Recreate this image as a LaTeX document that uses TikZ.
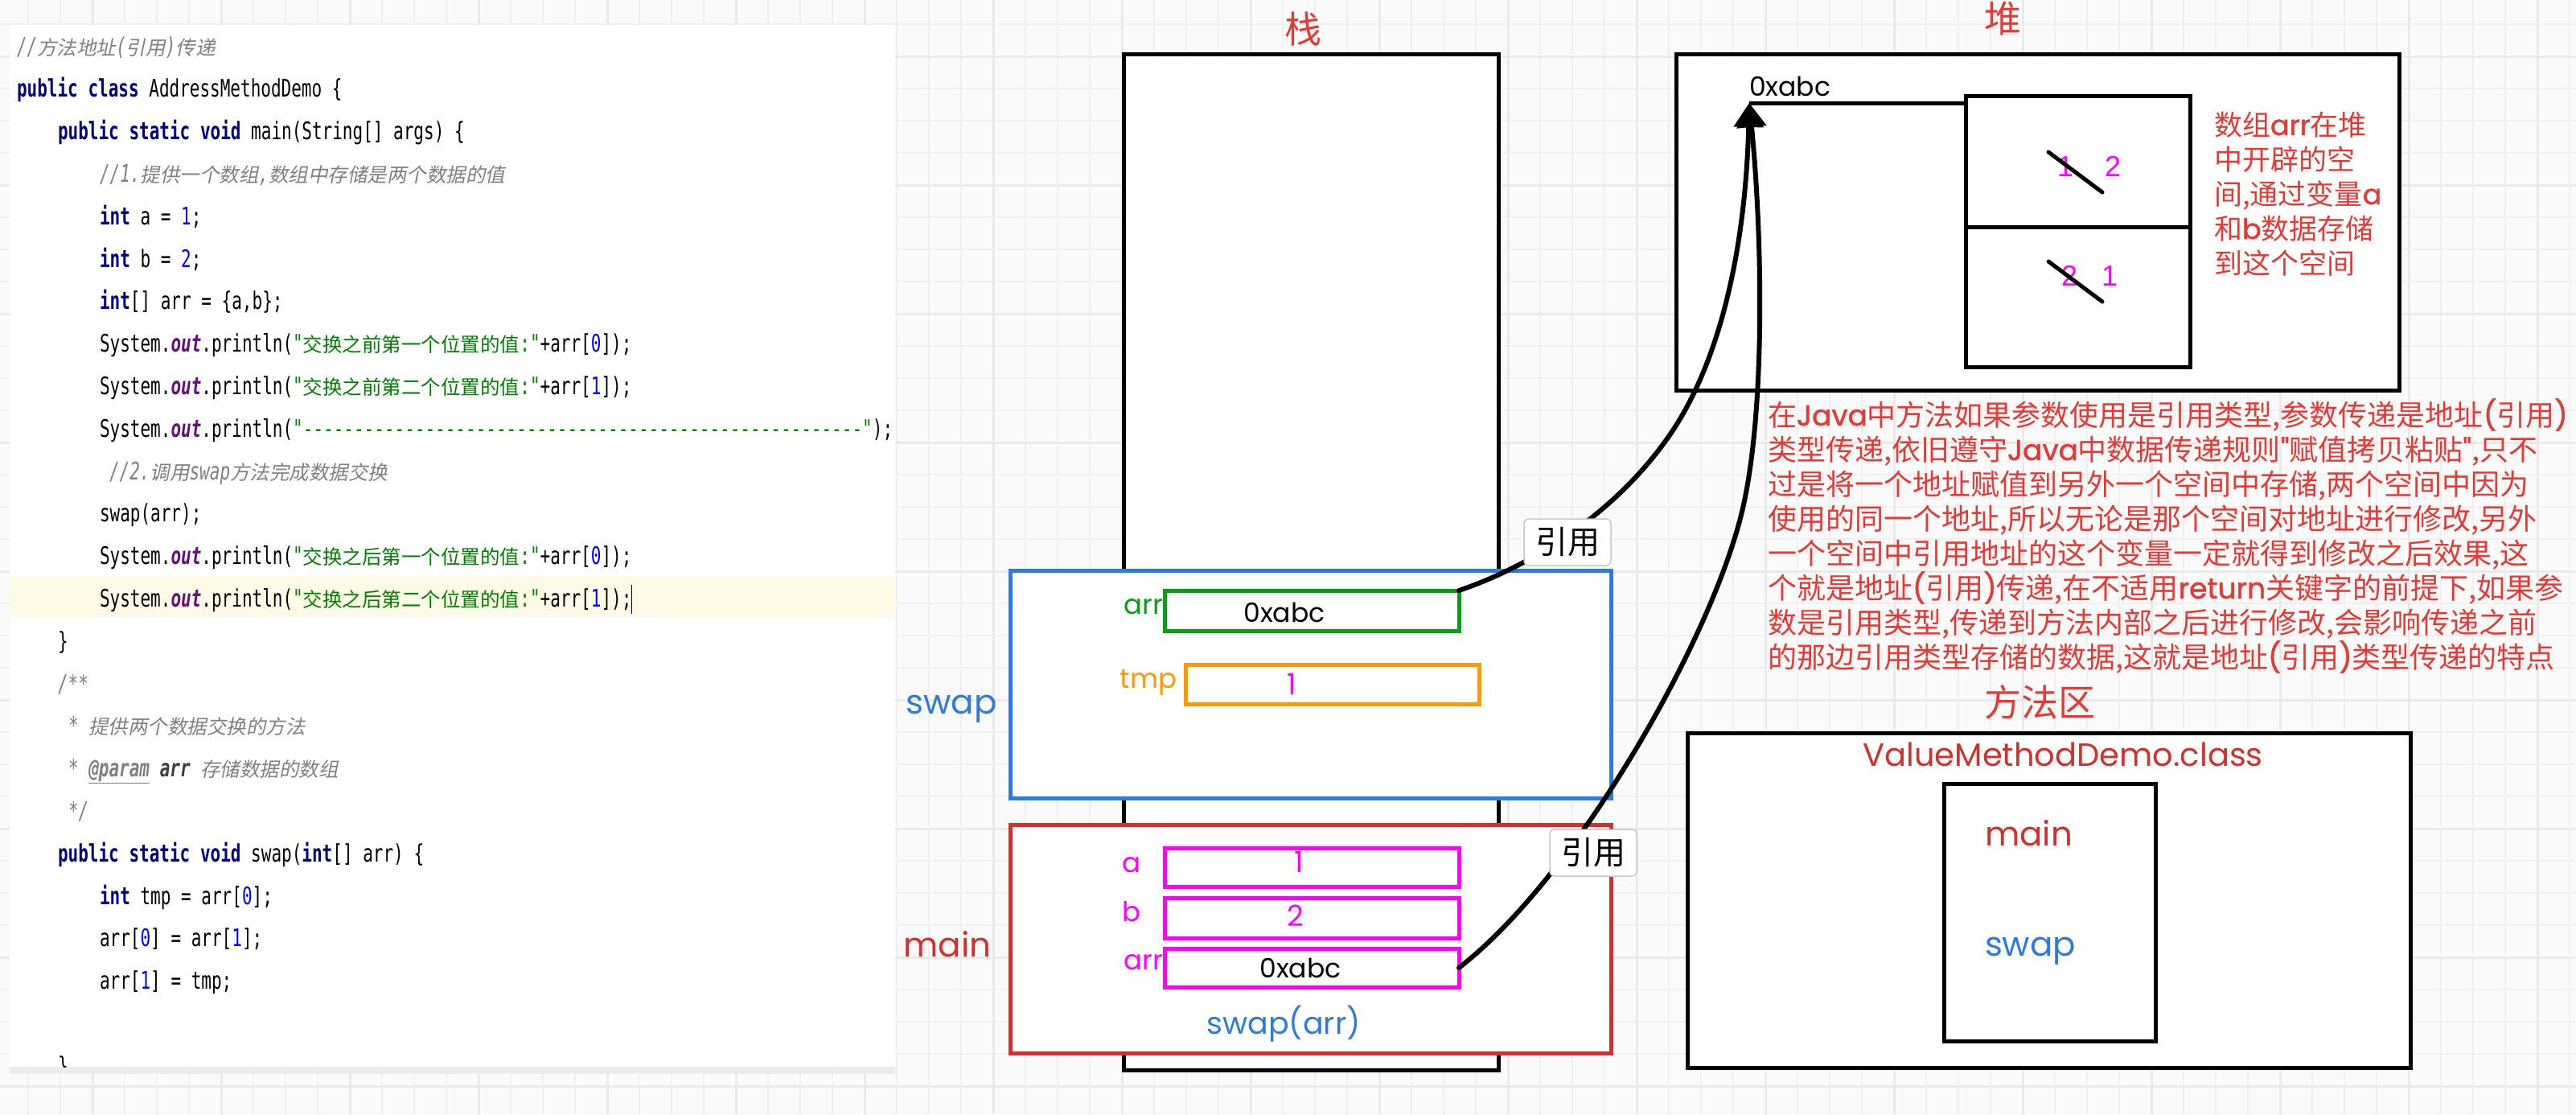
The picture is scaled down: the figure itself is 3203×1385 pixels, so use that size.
\documentclass[tikz,border=0pt]{standalone}
\usepackage{fontspec}
\usetikzlibrary{arrows.meta}
\setmainfont{Poppins}
\newfontfamily\uif{Poppins}[FakeBold=1.3]
\newfontfamily\cjkf{Noto Sans CJK SC}
\newfontfamily\cjkif{Noto Sans CJK SC}[FakeSlant=0.2]
\newfontfamily\codef{DejaVu Sans Mono}[FakeStretch=0.7]
\newfontfamily\libf{Liberation Sans}
\definecolor{bgc}{RGB}{250,250,250}
\definecolor{gridc}{RGB}{240,240,240}
\definecolor{gridm}{RGB}{234,234,234}
\definecolor{kwc}{RGB}{0,0,128}
\definecolor{outc}{RGB}{102,14,122}
\definecolor{strc}{RGB}{0,128,0}
\definecolor{numc}{RGB}{0,0,255}
\definecolor{cmc}{RGB}{128,128,128}
\definecolor{cmdark}{RGB}{61,61,61}
\definecolor{hlc}{RGB}{253,251,230}
\definecolor{stripc}{RGB}{236,236,236}
\definecolor{bluec}{RGB}{45,123,224}
\definecolor{redc}{RGB}{211,47,47}
\definecolor{greenc}{RGB}{0,160,20}
\definecolor{orangec}{RGB}{255,153,0}
\definecolor{magc}{RGB}{255,0,255}
\definecolor{annc}{RGB}{229,57,53}
\definecolor{refc}{RGB}{200,200,200}
\newcommand\zh[1]{{\cjkf\fontsize{24.5}{30}\selectfont #1}}
\newcommand\zhi[1]{{\cjkif\fontsize{24.5}{30}\selectfont #1}}
\newcommand\kw[1]{{\color{kwc}\bfseries #1}}
\newcommand\outw{{\color{outc}\bfseries\itshape out}}
\newcommand\nm[1]{{\color{numc}#1}}
\newcommand\sg[1]{{\color{strc}#1}}
\newcommand\cm[1]{{\color{cmc}\itshape #1}}
\newcommand\ui[1]{{\uif #1}}
\begin{document}
\begin{tikzpicture}[x=1pt,y=-1pt,
  every node/.style={inner sep=0pt,outer sep=0pt},
  blkbox/.style={draw=black,line width=5pt,fill=white,anchor=north west},
  colbox/.style={draw=#1,line width=5pt,fill=white,anchor=north west},
  codeln/.style={anchor=base west,font=\codef\fontsize{30}{36}\selectfont},
  uit/.style={anchor=base,font=\rmfamily\fontsize{#1}{#1}\selectfont},
  zht/.style={anchor=base,text=annc,font=\cjkf\fontsize{#1}{#1}\selectfont},
  annot/.style={anchor=base west,text=annc,font=\cjkf\fontsize{36}{43}\selectfont},
  hannot/.style={anchor=base west,text=annc,font=\cjkf\fontsize{35}{43}\selectfont},
  digit/.style={anchor=base,text=magc,font=\libf\fontsize{36}{36}\selectfont},
  reflbl/.style={draw=refc,line width=1.5pt,fill=white,rounded corners=6pt,
    minimum width=108pt,minimum height=58pt,font=\cjkf\fontsize{40}{40}\selectfont},
  curve/.style={draw=black,line width=6pt,line cap=round,-{Triangle[length=30pt,width=36pt]}},
  slash/.style={draw=black,line width=5pt,line cap=round}]
\useasboundingbox (0,0) rectangle (3203,1385);
% background and grid
\fill[bgc] (0,0) rectangle (3203,1385);
\foreach \gx in {35,75,...,3195} \draw[gridc,line width=2pt] (\gx,0) -- (\gx,1385);
\foreach \gy in {30,70,...,1385} \draw[gridc,line width=2pt] (0,\gy) -- (3203,\gy);
\foreach \gx in {115,275,...,3195} \draw[gridm,line width=3pt] (\gx,0) -- (\gx,1385);
\foreach \gy in {70,230,...,1385} \draw[gridm,line width=3pt] (0,\gy) -- (3203,\gy);
% code panel
\fill[white] (12,31) rectangle (1113,1326);
\fill[stripc] (12,1326) rectangle (1113,1335);
\fill[hlc] (12,716) rectangle (1113,767);
\begin{scope}
\clip (12,31) rectangle (1113,1326);
\node[codeln] (c1) at (21,68) {\cm{//\zhi{方法地址}(\zhi{引用})\zhi{传递}}};
\node[codeln] (c2) at (21,120.8) {\kw{public} \kw{class} AddressMethodDemo \{};
\node[codeln] (c3) at (72,173.6) {\kw{public} \kw{static} \kw{void} main(String[] args) \{};
\node[codeln] (c4) at (124,226.4) {\cm{//1.\zhi{提供一个数组},\zhi{数组中存储是两个数据的值}}};
\node[codeln] (c5) at (124,279.2) {\kw{int} a = \nm{1};};
\node[codeln] (c6) at (124,332) {\kw{int} b = \nm{2};};
\node[codeln] (c7) at (124,384.8) {\kw{int}[] arr = \{a,b\};};
\node[codeln] (c8) at (124,437.6) {System.\outw.println(\sg{"\zh{交换之前第一个位置的值}:"}+arr[\nm{0}]);};
\node[codeln] (c9) at (124,490.4) {System.\outw.println(\sg{"\zh{交换之前第二个位置的值}:"}+arr[\nm{1}]);};
\node[codeln] (c10) at (124,543.2) {System.\outw.println(\sg{"-------------------------------------------------------"});};
\node[codeln] (c11) at (136,596) {\cm{//2.\zhi{调用}swap\zhi{方法完成数据交换}}};
\node[codeln] (c12) at (124,648.8) {swap(arr);};
\node[codeln] (c13) at (124,701.6) {System.\outw.println(\sg{"\zh{交换之后第一个位置的值}:"}+arr[\nm{0}]);};
\node[codeln] (c14) at (124,754.4) {System.\outw.println(\sg{"\zh{交换之后第二个位置的值}:"}+arr[\nm{1}]);};
\draw[line width=1.5pt] (c14.east |- 0,727) -- (c14.east |- 0,763);
\node[codeln] (c15) at (72,807.2) {\}};
\node[codeln] (c16) at (72,860) {\cm{/**}};
\node[codeln] (c17) at (85,912.8) {\cm{* \zhi{提供两个数据交换的方法}}};
\node[codeln] (c18) at (85,965.6) {\cm{* \underline{\bfseries @param} {\color{cmdark}\bfseries arr} \zhi{存储数据的数组}}};
\node[codeln] (c19) at (85,1018.4) {\cm{*/}};
\node[codeln] (c20) at (72,1071.2) {\kw{public} \kw{static} \kw{void} swap(\kw{int}[] arr) \{};
\node[codeln] (c21) at (124,1124) {\kw{int} tmp = arr[\nm{0}];};
\node[codeln] (c22) at (124,1176.8) {arr[\nm{0}] = arr[\nm{1}];};
\node[codeln] (c23) at (124,1229.6) {arr[\nm{1}] = tmp;};
\node[codeln] (c25) at (72,1335.2) {\}};
\end{scope}
% stack
\node[zht=46] (stackT) at (1620,53) {栈};
\node[blkbox,minimum width=466pt,minimum height=1263pt] (stack) at (1397,67) {};
\node[colbox=bluec,minimum width=747pt,minimum height=283pt] (swapF) at (1256,709) {};
\node[colbox=redc,minimum width=747pt,minimum height=284pt] (mainF) at (1256,1025) {};
\node[uit=42,text=bluec] (swapL) at (1183,887) {swap};
\node[uit=42,text=redc] (mainL) at (1178,1189) {main};
\node[colbox=greenc,minimum width=366pt,minimum height=50pt] (sarr) at (1448,734) {};
\node[colbox=orangec,minimum width=365pt,minimum height=49pt] (stmp) at (1474,826) {};
\node[colbox=magc,minimum width=366pt,minimum height=48pt] (ma) at (1448,1054) {};
\node[colbox=magc,minimum width=366pt,minimum height=50pt] (mb) at (1448,1116) {};
\node[colbox=magc,minimum width=366pt,minimum height=48pt] (marr) at (1448,1179) {};
\node[uit=34,text=greenc,anchor=base east] (sarrL) at (1446,763) {arr};
\node[uit=33] (sval) at (1597,773) {0xabc};
\node[uit=34,text=orangec,anchor=base east] (stmpL) at (1463,855) {tmp};
\node[uit=36,text=magc] (tval) at (1606,863) {1};
\node[uit=34,text=magc,anchor=base west] (maL) at (1395,1084) {a};
\node[uit=36,text=magc] (aval) at (1615,1084) {1};
\node[uit=34,text=magc,anchor=base west] (mbL) at (1395,1145) {b};
\node[uit=36,text=magc] (bval) at (1611,1151) {2};
\node[uit=34,text=magc,anchor=base east] (marrL) at (1446,1205) {arr};
\node[uit=33] (mval) at (1617,1215) {0xabc};
\node[uit=38,text=bluec] (callL) at (1596,1285) {swap(arr)};
% heap
\node[zht=46] (heapT) at (2490,40) {堆};
\node[blkbox,minimum width=899pt,minimum height=418pt] (heap) at (2084,67) {};
\node[blkbox,minimum width=279pt,minimum height=337pt] (harr) at (2444,119) {};
\draw[line width=5pt] (harr.west |- 0,282) -- (harr.east |- 0,282);
\node[uit=33,anchor=base west] (hval) at (2175,119) {0xabc};
\node[digit] (h11) at (2568,219) {1};
\node[digit] (h12) at (2627,219) {2};
\node[digit] (h21) at (2573,355) {2};
\node[digit] (h22) at (2623,355) {1};
\draw[slash] (2547,189) -- (2614,239);
\draw[slash] (2547,325) -- (2614,375);
\coordinate (tip) at (2175,128);
\draw[line width=5pt] (tip) -- (tip -| harr.west);
\foreach \t [count=\i] in {{数组\ui{arr}在堆},{中开辟的空},{间,通过变量\ui{a}},{和\ui{b}数据存储},{到这个空间}}
  \node[hannot] (hann\i) at (2753,{168+43*(\i-1)}) {\t};
\foreach \t [count=\i] in {
  {在\ui{Java}中方法如果参数使用是引用类型,参数传递是地址\ui{(}引用\ui{)}},
  {类型传递,依旧遵守\ui{Java}中数据传递规则\ui{"}赋值拷贝粘贴\ui{"},只不},
  {过是将一个地址赋值到另外一个空间中存储,两个空间中因为},
  {使用的同一个地址,所以无论是那个空间对地址进行修改,另外},
  {一个空间中引用地址的这个变量一定就得到修改之后效果,这},
  {个就是地址\ui{(}引用\ui{)}传递,在不适用\ui{return}关键字的前提下,如果参},
  {数是引用类型,传递到方法内部之后进行修改,会影响传递之前},
  {的那边引用类型存储的数据,这就是地址\ui{(}引用\ui{)}类型传递的特点}}
  \node[annot] (ann\i) at (2198,{529+43*(\i-1)}) {\t};
% method area
\node[zht=46] (methT) at (2536,890) {方法区};
\node[blkbox,minimum width=899pt,minimum height=416pt] (meth) at (2098,911) {};
\node[uit=40,text=redc] (clsL) at (2565,952) {ValueMethodDemo.class};
\node[blkbox,minimum width=263pt,minimum height=320pt] (methin) at (2417,974) {};
\node[uit=42,text=redc,anchor=base west] (mmain) at (2468,1051) {main};
\node[uit=42,text=bluec,anchor=base west] (mswap) at (2468,1188) {swap};
% reference curves
\draw[curve] (sarr.north east) .. controls (1900,705) and (2010,640) .. (2080,535)
  .. controls (2135,452) and (2170,320) .. (tip);
\draw[curve] (marr.east) .. controls (1960,1090) and (2125,800) .. (2165,640)
  .. controls (2195,520) and (2192,300) .. (tip);
\node[reflbl] (ref1) at (1949,674) {引用};
\node[reflbl] (ref2) at (1981,1060) {引用};
\end{tikzpicture}
\end{document}
